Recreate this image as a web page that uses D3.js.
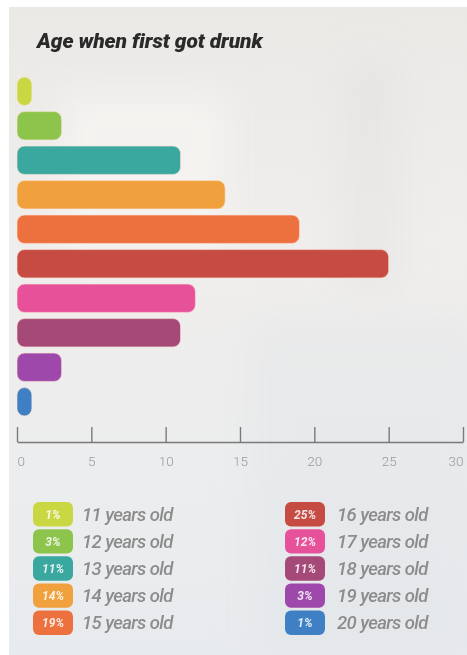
<!DOCTYPE html>
<html>
<head>
<meta charset="utf-8">
<script src="https://cdn.jsdelivr.net/npm/d3@7"></script>
<style>
  html, body { margin: 0; padding: 0; background: #ffffff; }
  svg { display: block; }
</style>
</head>
<body>
<svg id="chart" width="467" height="655"></svg>
<script>
// Share of respondents by the age at which they first got drunk (%)
const ages = ["11 years old", "12 years old", "13 years old", "14 years old", "15 years old",
              "16 years old", "17 years old", "18 years old", "19 years old", "20 years old"];
const shares = [1, 3, 11, 14, 19, 25, 12, 11, 3, 1];
const colors = ["#c9d742", "#8dc44b", "#3ba8a0", "#f0a03d", "#ec713f",
                "#c54b43", "#e7519a", "#a54a78", "#9f48ab", "#3f80c5"];
const xTicks = [0, 5, 10, 15, 20, 25, 30];
const title = "Age when first got drunk";

const data = ages.map((age, i) => ({ age, value: shares[i], color: colors[i] }));

const svg = d3.select("#chart");
const W = 467, H = 655;

// paper background
const defs = svg.append("defs");
const bg = defs.append("linearGradient").attr("id", "paper").attr("x1", 0).attr("y1", 0).attr("x2", 0).attr("y2", 1);
bg.append("stop").attr("offset", "0%").attr("stop-color", "#ebe9e6");
bg.append("stop").attr("offset", "35%").attr("stop-color", "#f0eeec");
bg.append("stop").attr("offset", "70%").attr("stop-color", "#ecedee");
bg.append("stop").attr("offset", "100%").attr("stop-color", "#e8ebee");
const soft = defs.append("filter").attr("id", "soft")
  .attr("filterUnits", "userSpaceOnUse").attr("x", 0).attr("y", 0).attr("width", W).attr("height", H);
soft.append("feGaussianBlur").attr("stdDeviation", 18);

svg.append("rect").attr("x", 9).attr("y", 7).attr("width", W - 9).attr("height", H - 7).attr("fill", "url(#paper)");
// soft creases in the paper
const paper = svg.append("g").attr("filter", "url(#soft)");
paper.append("rect").attr("x", 250).attr("y", 320).attr("width", 230).attr("height", 340).attr("fill", "#dfe1e4").attr("opacity", 0.35);
paper.append("rect").attr("x", 60).attr("y", 90).attr("width", 170).attr("height", 170).attr("fill", "#f7f6f4").attr("opacity", 0.6);
paper.append("rect").attr("x", 340).attr("y", 60).attr("width", 60).attr("height", 230).attr("fill", "#e0dedc").attr("opacity", 0.35);

// title
svg.append("text")
  .attr("x", 37).attr("y", 48)
  .attr("font-family", "Roboto, 'Liberation Sans', sans-serif")
  .attr("font-weight", 900).attr("font-style", "italic")
  .attr("font-size", 21).attr("letter-spacing", -0.1)
  .attr("fill", "#2a2a2a")
  .text(title);

// scales
const x = d3.scaleLinear().domain([0, 30]).range([17, 463]);
const y = d3.scaleBand().domain(ages).range([74, 419]).paddingInner(0.18).paddingOuter(0.09);

// bars
svg.append("g").selectAll("rect").data(data).join("rect")
  .attr("x", x(0))
  .attr("y", d => y(d.age))
  .attr("width", d => x(d.value) - x(0))
  .attr("height", y.bandwidth())
  .attr("rx", 7.5).attr("ry", 7.5)
  .attr("fill", d => d.color)
  .attr("stroke", "#fbe3d3").attr("stroke-opacity", 0.6).attr("stroke-width", 1);

// axis: ticks rise above the baseline, labels sit below
const axis = d3.axisBottom(x).tickValues(xTicks).tickSizeInner(-15).tickSizeOuter(0).tickPadding(14);
const gAxis = svg.append("g").attr("transform", "translate(0,442)").call(axis);
gAxis.select(".domain").attr("stroke", "#7a7a7a").attr("stroke-width", 1.4);
gAxis.selectAll(".tick line").attr("stroke", "#7a7a7a").attr("stroke-width", 1.4);
gAxis.selectAll(".tick text")
  .attr("font-family", "Roboto, 'Liberation Sans', sans-serif")
  .attr("font-weight", 300).attr("font-size", 13.5)
  .attr("fill", "#9a9a9a")
  .attr("text-anchor", d => d === xTicks[0] ? "start" : d === xTicks[xTicks.length - 1] ? "end" : "middle");

// legend: two columns of five
const rowY = d3.scaleBand().domain(d3.range(5)).range([501, 636]).paddingInner(0.1).paddingOuter(0.04);
const cols = [{ bx: 33, tx: 82 }, { bx: 285, tx: 337 }];
const legend = svg.append("g").selectAll("g").data(data).join("g")
  .attr("transform", (d, i) => {
    const c = cols[Math.floor(i / 5)];
    return `translate(${c.bx},${rowY(i % 5)})`;
  });
legend.append("rect")
  .attr("width", 40).attr("height", rowY.bandwidth())
  .attr("rx", 6).attr("ry", 6)
  .attr("fill", d => d.color);
legend.append("text")
  .attr("x", 20).attr("y", rowY.bandwidth() / 2).attr("dy", "0.36em")
  .attr("text-anchor", "middle")
  .attr("font-family", "Roboto, 'Liberation Sans', sans-serif")
  .attr("font-weight", 700).attr("font-style", "italic").attr("font-size", 12)
  .attr("fill", "#ffffff").attr("fill-opacity", 0.85)
  .text(d => d.value + "%");
legend.append("text")
  .attr("x", (d, i) => cols[Math.floor(i / 5)].tx - cols[Math.floor(i / 5)].bx)
  .attr("y", rowY.bandwidth() / 2).attr("dy", "0.36em")
  .attr("font-family", "Roboto, 'Liberation Sans', sans-serif")
  .attr("font-style", "italic").attr("font-weight", 500)
  .attr("font-size", 18.5).attr("letter-spacing", -0.6)
  .attr("fill", "#8c8c8c")
  .text(d => d.age);
</script>
</body>
</html>
